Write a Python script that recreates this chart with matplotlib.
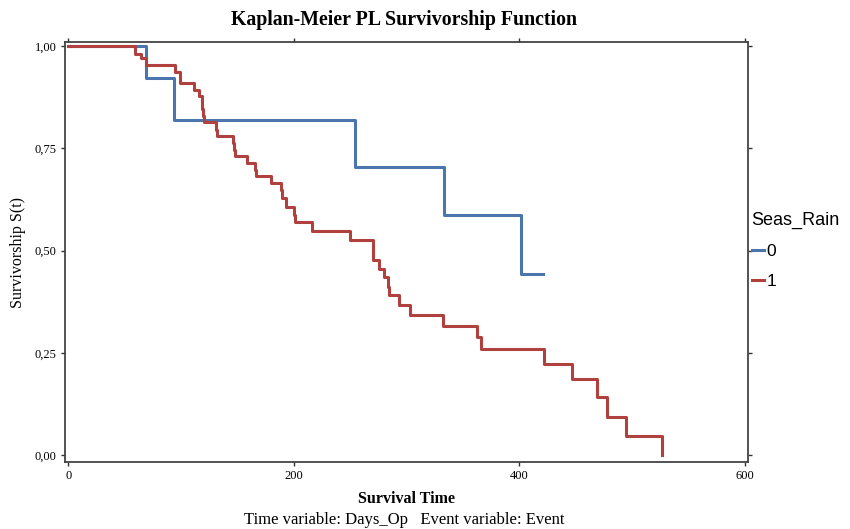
import numpy as np
import matplotlib.pyplot as plt
from matplotlib.ticker import FuncFormatter
from matplotlib.lines import Line2D

# Kaplan-Meier step estimates
time_0 = [0, 69.2, 93.6, 254.6, 333.4, 401.5, 421.0]
surv_0 = [1.0, 0.921, 0.819, 0.704, 0.587, 0.443, 0.443]

time_1 = [0, 59.1, 64.7, 69.1, 94.9, 99.3, 111.1, 116.1, 118.2, 119.4, 120.6,
          130.9, 131.8, 146.0, 147.2, 148.0, 158.4, 165.2, 166.4, 179.7, 188.6,
          189.7, 193.3, 200.6, 201.5, 216.0, 250.0, 270.7, 275.7, 280.1, 284.0,
          284.8, 293.7, 303.2, 332.2, 362.3, 366.4, 422.3, 446.5, 469.2, 477.5,
          494.4, 526.9]
surv_1 = [1.0, 0.980, 0.970, 0.954, 0.937, 0.910, 0.892, 0.878, 0.845, 0.829,
          0.815, 0.796, 0.781, 0.764, 0.747, 0.731, 0.713, 0.698, 0.682, 0.666,
          0.648, 0.628, 0.607, 0.587, 0.570, 0.548, 0.527, 0.478, 0.456, 0.436,
          0.411, 0.391, 0.367, 0.342, 0.315, 0.288, 0.259, 0.222, 0.185, 0.141,
          0.092, 0.047, 0.0]

groups = ['0', '1']
colors = ['#4a76ad', '#b0413e']

x_ticks = [0, 200, 400, 600]
y_ticks = [0.0, 0.25, 0.5, 0.75, 1.0]

serif = 'Liberation Serif'
sans = 'Liberation Sans'

fig = plt.figure(figsize=(8.5, 5.29), dpi=100)
ax = fig.add_axes([65/850, 1 - 462/529, (748 - 65)/850, (462 - 42)/529])

ax.step(time_0, surv_0, where='post', color=colors[0], linewidth=2.2, zorder=2)
ax.step(time_1, surv_1, where='post', color=colors[1], linewidth=2.2, zorder=3)

ax.set_xlim(-3, 603)
ax.set_ylim(-0.017, 1.01)
ax.set_xticks(x_ticks)
ax.set_yticks(y_ticks)
ax.yaxis.set_major_formatter(FuncFormatter(lambda v, p: f'{v:.2f}'.replace('.', ',')))

for s in ax.spines.values():
    s.set_color('#444444')
    s.set_linewidth(1.3)

ax.tick_params(direction='out', length=3, width=1, top=True, right=True,
               labeltop=False, labelright=False, color='#333333', pad=3)
for lab in ax.get_xticklabels() + ax.get_yticklabels():
    lab.set_fontfamily(serif)
    lab.set_fontsize(9)

ax.set_ylabel('Survivorship S(t)', fontfamily=serif, fontsize=11.5, labelpad=6)
ax.set_xlabel('Survival Time', fontfamily=serif, fontsize=11.5, fontweight='bold', labelpad=6)

fig.text(0.475, 1 - 20/529, 'Kaplan-Meier PL Survivorship Function', fontfamily=serif,
         fontsize=14.3, fontweight='bold', ha='center', va='center')
fig.text(0.475, 1 - 520/529, 'Time variable: Days_Op   Event variable: Event',
         fontfamily=serif, fontsize=12, ha='center', va='center')

handles = [Line2D([0], [0], color=c, linewidth=2.2) for c in colors]
leg = fig.legend(handles, groups, title='Seas_Rain', loc='upper left',
                 bbox_to_anchor=(736/850, 1 - 196/529), frameon=False,
                 handlelength=0.7, handletextpad=0.15, labelspacing=0.85,
                 prop={'family': sans, 'size': 12.5},
                 title_fontproperties={'family': sans, 'size': 13})
leg._legend_box.align = 'left'

fig.savefig('out.png', dpi=100)
